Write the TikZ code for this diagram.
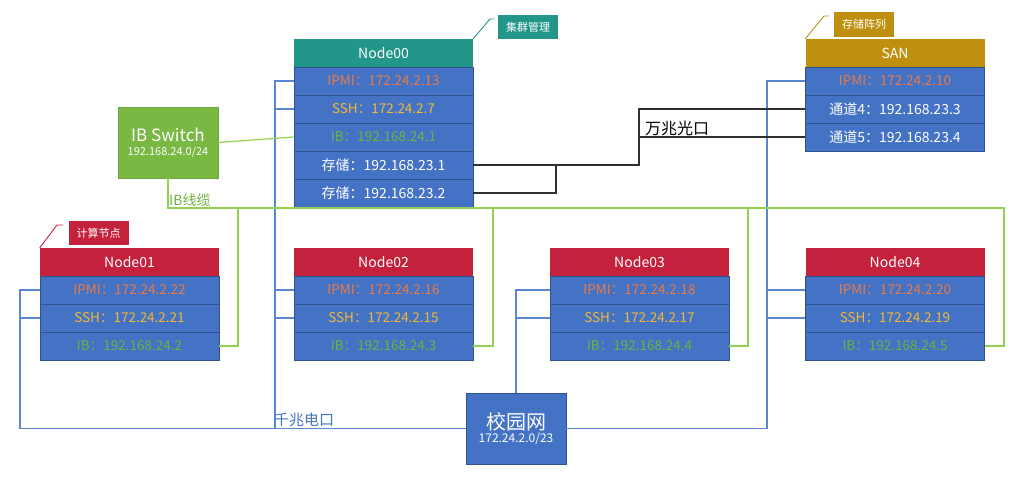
\documentclass[tikz,border=0pt]{standalone}
\usepackage{fontspec}
\setmainfont{Noto Sans CJK SC}
\definecolor{rowblue}{HTML}{4472C4}
\definecolor{rowedge}{HTML}{2F528F}
\definecolor{teal0}{HTML}{23968A}
\definecolor{gold0}{HTML}{BF9010}
\definecolor{red0}{HTML}{C3213C}
\definecolor{ipmi}{HTML}{EB7A45}
\definecolor{sshc}{HTML}{F2B935}
\definecolor{ibc}{HTML}{6FB33F}
\definecolor{swgreen}{HTML}{78B843}
\definecolor{lineblue}{HTML}{5A86D6}
\definecolor{linegreen}{HTML}{92D050}
\definecolor{lineblack}{HTML}{303030}
\begin{document}
\begin{tikzpicture}[x=1pt,y=-1pt,
  row/.style={draw=rowedge, line width=0.8pt, fill=rowblue, minimum width=179pt, minimum height=28pt, inner sep=0pt, font=\fontsize{13.5}{15}\selectfont},
  headbox/.style={minimum width=179pt, minimum height=28pt, inner sep=0pt, text=white, font=\fontsize{14}{16}\selectfont},
  tagbox/.style={minimum width=60pt, minimum height=24pt, inner sep=0pt, text=white, font=\fontsize{11}{13}\selectfont},
  bline/.style={draw=lineblue, line width=1.2pt},
  gline/.style={draw=linegreen, line width=1.2pt},
  kline/.style={draw=lineblack, line width=1.4pt},
  tagline/.style={line width=0.9pt}
]
\useasboundingbox (0,0) rectangle (1011,493);

% ---- Node00 ----
\node[headbox, fill=teal0] (n0head) at (383.5,53) {Node00};
\node[row, text=ipmi] (n0ipmi) at (383.5,81) {IPMI：172.24.2.13};
\node[row, text=sshc] (n0ssh) at (383.5,109) {SSH：172.24.2.7};
\node[row, text=ibc] (n0ib) at (383.5,137) {IB：192.168.24.1};
\node[row, text=white, font=\fontsize{14}{16}\selectfont] (n0st1) at (383.5,165) {存储：192.168.23.1};
\node[row, text=white, font=\fontsize{14}{16}\selectfont] (n0st2) at (383.5,193) {存储：192.168.23.2};
\node[tagbox, fill=teal0] (tag0) at (528,27) {集群管理};
\draw[tagline, draw=teal0] (n0head.north east) -- (490,19) -- (494,19);

% ---- SAN ----
\node[headbox, fill=gold0] (sanhead) at (895,53) {SAN};
\node[row, text=ipmi] (sanipmi) at (895,81) {IPMI：172.24.2.10};
\node[row, text=white, font=\fontsize{14}{16}\selectfont] (san4) at (895,109) {通道4：192.168.23.3};
\node[row, text=white, font=\fontsize{14}{16}\selectfont] (san5) at (895,137) {通道5：192.168.23.4};
\node[tagbox, fill=gold0, minimum height=25pt] (tagsan) at (864,24.5) {存储阵列};
\draw[tagline, draw=gold0] (sanhead.north west) -- (824,16) -- (829,16);

% ---- compute nodes ----
\node[headbox, fill=red0] (n1head) at (129.5,262) {Node01};
\node[row, text=ipmi] (n1ipmi) at (129.5,290) {IPMI：172.24.2.22};
\node[row, text=sshc] (n1ssh) at (129.5,318) {SSH：172.24.2.21};
\node[row, text=ibc] (n1ib) at (129.5,346) {IB：192.168.24.2};
\node[tagbox, fill=red0] (tag1) at (98.5,233) {计算节点};
\draw[tagline, draw=red0] (n1head.north west) -- (57,225) -- (63,225);

\node[headbox, fill=red0] (n2head) at (383.5,262) {Node02};
\node[row, text=ipmi] (n2ipmi) at (383.5,290) {IPMI：172.24.2.16};
\node[row, text=sshc] (n2ssh) at (383.5,318) {SSH：172.24.2.15};
\node[row, text=ibc] (n2ib) at (383.5,346) {IB：192.168.24.3};

\node[headbox, fill=red0] (n3head) at (639.5,262) {Node03};
\node[row, text=ipmi] (n3ipmi) at (639.5,290) {IPMI：172.24.2.18};
\node[row, text=sshc] (n3ssh) at (639.5,318) {SSH：172.24.2.17};
\node[row, text=ibc] (n3ib) at (639.5,346) {IB：192.168.24.4};

\node[headbox, fill=red0] (n4head) at (895,262) {Node04};
\node[row, text=ipmi] (n4ipmi) at (895,290) {IPMI：172.24.2.20};
\node[row, text=sshc] (n4ssh) at (895,318) {SSH：172.24.2.19};
\node[row, text=ibc] (n4ib) at (895,346) {IB：192.168.24.5};

% ---- IB switch and campus network ----
\node[fill=swgreen, draw=swgreen!90!black, line width=0.6pt, minimum width=100pt, minimum height=71pt, inner sep=0pt, text=white, align=center] (ibsw) at (168,142.5)
  {{\fontsize{17}{20}\selectfont IB Switch}\\[2pt]{\fontsize{11}{13}\selectfont 192.168.24.0/24}};
\node[fill=rowblue, draw=rowedge, line width=0.8pt, minimum width=100pt, minimum height=71pt, inner sep=0pt, text=white, align=center] (campus) at (516,428.5)
  {{\fontsize{20}{23}\selectfont 校园网}\\[1pt]{\fontsize{12}{14}\selectfont 172.24.2.0/23}};

% ---- campus (blue) wiring ----
\coordinate (bL) at (20,428.5);
\coordinate (bM) at (275,428.5);
\coordinate (bR) at (767,428.5);
\draw[bline] (n1ipmi.west) -| (bL) -- (campus.west);
\draw[bline] (n1ssh.west) -- (n1ssh.west -| bL);
\draw[bline] (n0ipmi.west) -| (bM);
\draw[bline] (n0ssh.west) -- (n0ssh.west -| bM);
\draw[bline] (n2ipmi.west) -- (n2ipmi.west -| bM);
\draw[bline] (n2ssh.west) -- (n2ssh.west -| bM);
\draw[bline] (n3ipmi.west) -| (campus.north);
\draw[bline] (n3ssh.west) -- (n3ssh.west -| campus.north);
\draw[bline] (sanipmi.west) -| (bR) -- (campus.east);
\draw[bline] (n4ipmi.west) -- (n4ipmi.west -| bR);
\draw[bline] (n4ssh.west) -- (n4ssh.west -| bR);
\node[text=rowblue, font=\fontsize{15}{17}\selectfont, anchor=south west, inner sep=0pt] (lbl1g) at (274,427) {千兆电口};

% ---- IB (green) wiring ----
\coordinate (g1) at (238,208);
\coordinate (g2) at (493,208);
\coordinate (g3) at (748,208);
\coordinate (g4) at (1004,208);
\draw[gline] (ibsw.east) -- (n0ib.west);
\draw[gline] (ibsw.south) |- (g4) |- (n4ib.east);
\draw[gline] (g1) |- (n1ib.east);
\draw[gline] (g2) |- (n2ib.east);
\draw[gline] (g3) |- (n3ib.east);
\node[text=ibc, font=\fontsize{14}{16}\selectfont, anchor=south west, inner sep=0pt] (lblib) at (169,207) {IB线缆};

% ---- 10G optical (black) wiring ----
\coordinate (kA) at (639,109);
\coordinate (kB) at (556,165);
\draw[kline] (n0st1.east) -| (kA) -- (san4.west);
\draw[kline] (san5.west) -- (san5.west -| kA);
\draw[kline] (n0st2.east) -| (kB);
\node[text=black, font=\fontsize{16}{18}\selectfont, anchor=south west, inner sep=0pt] (lbl10g) at (645,136) {万兆光口};
\end{tikzpicture}
\end{document}
